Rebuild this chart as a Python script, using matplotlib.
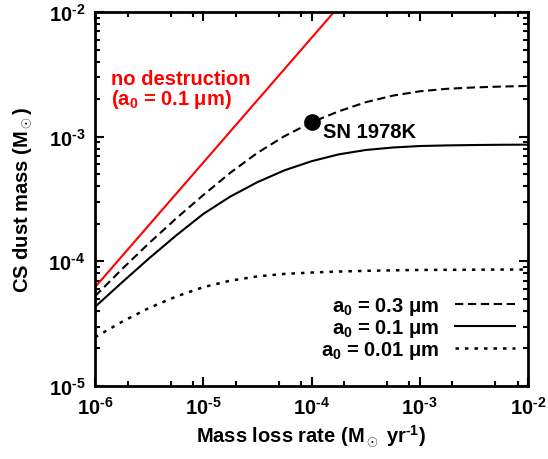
import numpy as np
import matplotlib
matplotlib.use('Agg')
from matplotlib import pyplot as plt
from matplotlib.ticker import LogLocator, NullFormatter, FuncFormatter

plt.rcParams['font.family'] = 'Liberation Sans'
plt.rcParams['font.weight'] = 'bold'
plt.rcParams['mathtext.fontset'] = 'custom'
plt.rcParams['mathtext.rm'] = 'Liberation Sans:bold'
plt.rcParams['mathtext.it'] = 'Liberation Sans:bold'
plt.rcParams['mathtext.bf'] = 'Liberation Sans:bold'
plt.rcParams['mathtext.default'] = 'rm'
plt.rcParams['axes.unicode_minus'] = False

# mass loss rate grid (Msun/yr), quarter decades
rate = [1.0e-6, 1.78e-6, 3.16e-6, 5.62e-6, 1.0e-5, 1.78e-5, 3.16e-5, 5.62e-5,
        1.0e-4, 1.78e-4, 3.16e-4, 5.62e-4, 1.0e-3, 1.78e-3, 3.16e-3, 5.62e-3, 1.0e-2]

# CS dust mass (Msun)
mass_03 = [5.25e-5, 8.69e-5, 1.40e-4, 2.21e-4, 3.40e-4, 5.14e-4, 7.41e-4, 1.009e-3,
           1.303e-3, 1.596e-3, 1.888e-3, 2.133e-3, 2.312e-3, 2.421e-3, 2.483e-3, 2.523e-3, 2.553e-3]
mass_01 = [4.31e-5, 6.79e-5, 1.057e-4, 1.614e-4, 2.399e-4, 3.311e-4, 4.315e-4, 5.370e-4,
           6.353e-4, 7.211e-4, 7.816e-4, 8.185e-4, 8.414e-4, 8.511e-4, 8.570e-4, 8.610e-4, 8.630e-4]
mass_001 = [2.46e-5, 3.28e-5, 4.23e-5, 5.22e-5, 6.21e-5, 7.00e-5, 7.57e-5, 7.93e-5,
            8.13e-5, 8.28e-5, 8.39e-5, 8.47e-5, 8.53e-5, 8.55e-5, 8.57e-5, 8.59e-5, 8.59e-5]

# no destruction case (a0 = 0.1 um)
nodes_rate = [1.0e-6, 1.0e-3]
nodes_mass = [6.2e-5, 6.2e-2]

# SN 1978K
sn_rate = 1.0e-4
sn_mass = 1.30e-3

fs = 14.5


def pow10(v, pos):
    e = int(round(np.log10(v)))
    if e < 0:
        return r'$10^{\text{-}%d}$' % (-e)
    return r'$10^{%d}$' % e


fig = plt.figure(figsize=(5.48, 4.6), dpi=100)
ax = fig.add_axes([0.1734, 0.1587, 0.7901, 0.813])

ax.plot(nodes_rate, nodes_mass, color='red', lw=1.5)
ax.plot(rate, mass_03, color='black', lw=1.5, ls=(0, (4, 2.2)), label=r'a$_0$ = 0.3 μm')
ax.plot(rate, mass_01, color='black', lw=1.5, ls='-', label=r'a$_0$ = 0.1 μm')
ax.plot(rate, mass_001, color='black', lw=1.8, ls=(0, (1.4, 2.4)), label=r'a$_0$ = 0.01 μm')
ax.plot(sn_rate, sn_mass, 'o', color='black', ms=11)

ax.set_xscale('log')
ax.set_yscale('log')
ax.set_xlim(1e-6, 1e-2)
ax.set_ylim(1e-5, 1e-2)

ax.xaxis.set_major_formatter(FuncFormatter(pow10))
ax.yaxis.set_major_formatter(FuncFormatter(pow10))
ax.xaxis.set_minor_locator(LogLocator(base=10, subs=[2, 5, 8]))
ax.yaxis.set_minor_locator(LogLocator(base=10, subs=np.arange(2, 10)))
ax.xaxis.set_minor_formatter(NullFormatter())
ax.yaxis.set_minor_formatter(NullFormatter())
ax.tick_params(which='both', direction='in', top=True, right=True, width=1.5, labelsize=fs)
ax.tick_params(which='major', length=6.5, pad=7)
ax.tick_params(which='minor', length=3.5)
for s in ax.spines.values():
    s.set_linewidth(2)

ax.set_xlabel(r'Mass loss rate (M$_\odot$ yr$^{\text{-}1}$)', fontsize=fs, fontweight='bold')
ax.set_ylabel(r'CS dust mass (M$_\odot$)', fontsize=fs, fontweight='bold')
ax.xaxis.set_label_coords(0.5, -0.098)
ax.yaxis.set_label_coords(-0.142, 0.5)

ax.text(0.037, 0.8075, 'no destruction', transform=ax.transAxes, color='red',
        fontsize=fs, fontweight='bold', va='baseline')
ax.text(0.037, 0.753, r'(a$_0$ = 0.1 μm)', transform=ax.transAxes, color='red',
        fontsize=fs, fontweight='bold', va='baseline')
ax.text(0.527, 0.665, 'SN 1978K', transform=ax.transAxes, fontsize=fs,
        fontweight='bold', va='baseline')

ax.legend(loc='lower right', bbox_to_anchor=(0.97, 0.068), markerfirst=False,
          frameon=False, fontsize=fs, handlelength=3.0, handletextpad=0.75,
          labelspacing=0.0, borderpad=0, borderaxespad=0)

fig.savefig('out.png', dpi=100)
